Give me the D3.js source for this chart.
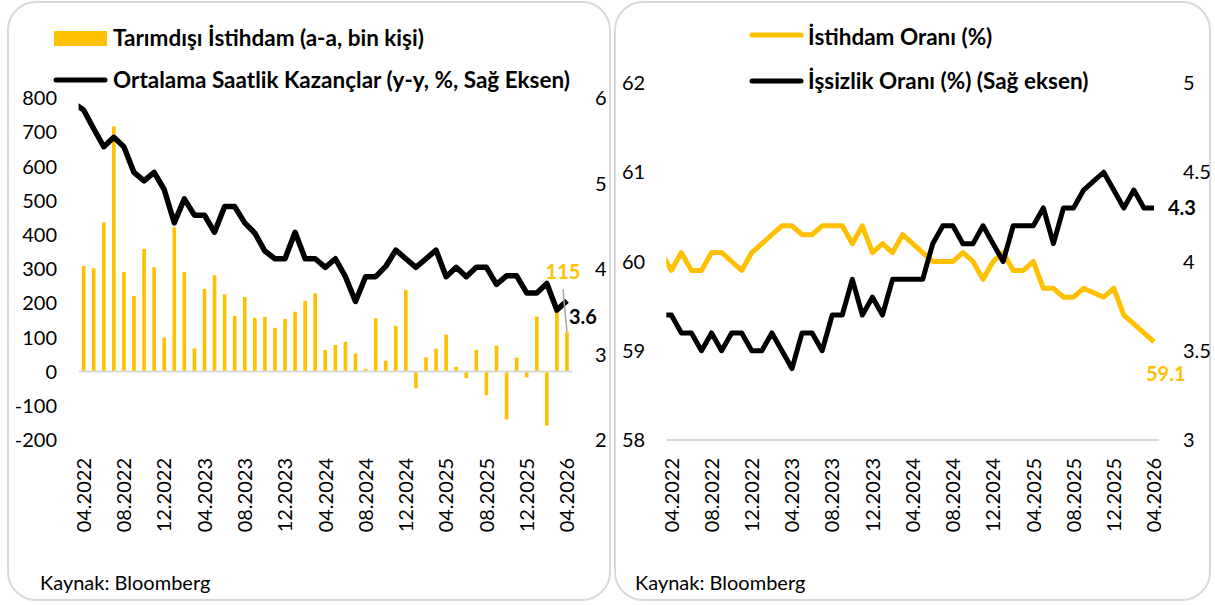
<!DOCTYPE html>
<html lang="tr">
<head>
    <meta charset="UTF-8">
    <title>ABD İstihdam Göstergeleri</title>
    <script src="https://d3js.org/d3.v7.min.js"></script>
    <style>
        body { margin: 0; background: #fff; }
        svg text { font-family: Lato, "Open Sans", sans-serif; fill: #000; }
        .tick-label { font-size: 20px; }
        .legend-text { font-size: 22.5px; font-weight: bold; }
        .source { font-size: 20px; }
        .value-label { font-size: 20px; font-weight: bold; }
    </style>
</head>
<body>
<script>

    var w = 1215;
    var h = 605;

    // months 03.2022 - 04.2026 (first month only feeds the lines, it is cut at the plot edge)
    var months = d3.timeMonth.range(new Date(2022, 2, 1), new Date(2026, 4, 1));
    var monthLabels = months.map(d3.timeFormat("%m.%Y"));

    var xTickLabels = ["04.2022", "08.2022", "12.2022", "04.2023", "08.2023", "12.2023", "04.2024",
        "08.2024", "12.2024", "04.2025", "08.2025", "12.2025", "04.2026"];

    // left chart: 04.2022 - 04.2026
    var payrolls = [309, 302, 436, 717, 291, 221, 359, 305, 100, 422, 291, 68, 242, 282, 226, 163, 218,
        157, 160, 128, 154, 175, 207, 229, 63, 78, 87, 53, 8, 156, 32, 134, 239, -49, 42, 67, 108, 14,
        -19, 64, -69, 76, -140, 41, -17, 161, -158, 178, 115];
    // 03.2022 - 04.2026
    var earnings = [5.94, 5.86, 5.64, 5.43, 5.54, 5.43, 5.13, 5.03, 5.13, 4.93, 4.54, 4.82, 4.63, 4.63,
        4.43, 4.73, 4.73, 4.54, 4.42, 4.21, 4.12, 4.12, 4.43, 4.12, 4.12, 4.02, 4.12, 3.91, 3.62, 3.91,
        3.91, 4.03, 4.22, 4.12, 4.02, 4.12, 4.22, 3.91, 4.02, 3.91, 4.02, 4.02, 3.82, 3.92, 3.92, 3.72,
        3.72, 3.83, 3.52, 3.63];

    // right chart: 03.2022 - 04.2026
    var empRatio = [60.1, 59.9, 60.1, 59.9, 59.9, 60.1, 60.1, 60.0, 59.9, 60.1, 60.2, 60.3, 60.4, 60.4,
        60.3, 60.3, 60.4, 60.4, 60.4, 60.2, 60.4, 60.1, 60.2, 60.1, 60.3, 60.2, 60.1, 60.0, 60.0, 60.0,
        60.1, 60.0, 59.8, 60.0, 60.1, 59.9, 59.9, 60.0, 59.7, 59.7, 59.6, 59.6, 59.7, 59.65, 59.6, 59.7,
        59.4, 59.3, 59.2, 59.1];
    var unemployment = [3.7, 3.7, 3.6, 3.6, 3.5, 3.6, 3.5, 3.6, 3.6, 3.5, 3.5, 3.6, 3.5, 3.4, 3.6, 3.6,
        3.5, 3.7, 3.7, 3.9, 3.7, 3.8, 3.7, 3.9, 3.9, 3.9, 3.9, 4.1, 4.2, 4.2, 4.1, 4.1, 4.2, 4.1, 4.0,
        4.2, 4.2, 4.2, 4.3, 4.1, 4.3, 4.3, 4.4, 4.45, 4.5, 4.4, 4.3, 4.4, 4.3, 4.3];

    var leftTicks = [-200, -100, 0, 100, 200, 300, 400, 500, 600, 700, 800];
    var leftRightTicks = [2, 3, 4, 5, 6];
    var rightTicks = [58, 59, 60, 61, 62];
    var rightRightTicks = [3, 3.5, 4, 4.5, 5];

    var gold = "#FFC000";

    var svg = d3.select("body")
        .append("svg")
        .attr("width", w)
        .attr("height", h);

    // panel frames
    svg.append("rect").attr("x", 8).attr("y", 2).attr("width", 602).attr("height", 598)
        .attr("rx", 28).attr("fill", "none").attr("stroke", "#D9D9D9").attr("stroke-width", 2);
    svg.append("rect").attr("x", 615).attr("y", 2).attr("width", 595).attr("height", 598)
        .attr("rx", 28).attr("fill", "none").attr("stroke", "#D9D9D9").attr("stroke-width", 2);

    function xLabels(g, x, y0) {
        g.selectAll(".xlab")
            .data(xTickLabels)
            .enter()
            .append("text")
            .attr("class", "tick-label")
            .attr("text-anchor", "end")
            .attr("dy", "0.36em")
            .attr("transform", function (d) {
                return "translate(" + x(monthLabels.indexOf(d)) + "," + y0 + ") rotate(-90)";
            })
            .text(function (d) { return d; });
    }

    function yLabels(g, ticks, y, x, anchor) {
        g.selectAll(null)
            .data(ticks)
            .enter()
            .append("text")
            .attr("class", "tick-label")
            .attr("text-anchor", anchor)
            .attr("x", x)
            .attr("y", function (d) { return y(d); })
            .attr("dy", "0.36em")
            .text(function (d) { return d; });
    }

    // ---------- left chart ----------
    var gL = svg.append("g");

    var xL = d3.scaleLinear().domain([0.5, 49.5]).range([78.6, 572]);
    var yL = d3.scaleLinear().domain([-200, 800]).range([440, 98]);
    var yL2 = d3.scaleLinear().domain([2, 6]).range([440, 98]);

    gL.append("clipPath").attr("id", "clipL")
        .append("rect").attr("x", xL(0.5)).attr("y", 0).attr("width", xL(49.5) - xL(0.5)).attr("height", h);

    gL.selectAll(".bar")
        .data(payrolls)
        .enter()
        .append("rect")
        .attr("class", "bar")
        .attr("x", function (d, i) { return xL(i + 1) - 1.8; })
        .attr("width", 3.6)
        .attr("y", function (d) { return yL(Math.max(0, d)); })
        .attr("height", function (d) { return Math.abs(yL(d) - yL(0)); })
        .attr("fill", gold);

    gL.append("line")
        .attr("x1", xL(0.5)).attr("x2", xL(49.5))
        .attr("y1", yL(0)).attr("y2", yL(0))
        .attr("stroke", "#D9D9D9").attr("stroke-width", 2);

    var lineL = d3.line()
        .x(function (d, i) { return xL(i); })
        .y(function (d) { return yL2(d); });

    gL.append("path")
        .datum(earnings)
        .attr("d", lineL)
        .attr("clip-path", "url(#clipL)")
        .attr("fill", "none")
        .attr("stroke", "#000")
        .attr("stroke-width", 5.5)
        .attr("stroke-linejoin", "round");

    yLabels(gL, leftTicks, yL, 57, "end");
    yLabels(gL, leftRightTicks, yL2, 595, "start");
    xLabels(gL, xL, 458);

    // end labels
    var lastL = payrolls.length;
    gL.append("line")
        .attr("x1", xL(lastL) - 4).attr("y1", yL(payrolls[lastL - 1]) - 43)
        .attr("x2", xL(lastL)).attr("y2", yL(payrolls[lastL - 1]))
        .attr("stroke", "#A6A6A6").attr("stroke-width", 1.5);
    gL.append("text")
        .attr("class", "value-label")
        .attr("text-anchor", "middle")
        .attr("x", xL(lastL) - 4)
        .attr("y", yL(payrolls[lastL - 1]) - 60)
        .attr("dy", "0.36em")
        .style("fill", gold)
        .text(payrolls[lastL - 1]);
    gL.append("text")
        .attr("class", "value-label")
        .attr("x", xL(lastL) + 2)
        .attr("y", yL2(earnings[lastL]) + 16)
        .attr("dy", "0.36em")
        .text(d3.format(".1f")(earnings[lastL]));

    // legend
    gL.append("rect").attr("x", 54).attr("y", 31).attr("width", 53).attr("height", 15).attr("fill", gold);
    gL.append("text").attr("class", "legend-text").attr("x", 113).attr("y", 38).attr("dy", "0.36em")
        .text("Tarımdışı İstihdam (a-a, bin kişi)");
    gL.append("line").attr("x1", 56).attr("x2", 105).attr("y1", 80).attr("y2", 80)
        .attr("stroke", "#000").attr("stroke-width", 5).attr("stroke-linecap", "round");
    gL.append("text").attr("class", "legend-text").attr("x", 113).attr("y", 80).attr("dy", "0.36em")
        .text("Ortalama Saatlik Kazançlar (y-y, %, Sağ Eksen)");

    gL.append("text").attr("class", "source").attr("x", 40).attr("y", 583).attr("dy", "0.36em")
        .text("Kaynak: Bloomberg");

    // ---------- right chart ----------
    var gR = svg.append("g");

    var xR = d3.scaleLinear().domain([0.5, 49.5]).range([666.3, 1159]);
    var yR = d3.scaleLinear().domain([58, 62]).range([440, 83]);
    var yR2 = d3.scaleLinear().domain([3, 5]).range([440, 83]);

    gR.append("clipPath").attr("id", "clipR")
        .append("rect").attr("x", xR(0.5)).attr("y", 0).attr("width", xR(49.5) - xR(0.5)).attr("height", h);

    gR.append("line")
        .attr("x1", xR(0.5)).attr("x2", xR(49.5))
        .attr("y1", yR(58)).attr("y2", yR(58))
        .attr("stroke", "#D9D9D9").attr("stroke-width", 2);

    var lineEmp = d3.line()
        .x(function (d, i) { return xR(i); })
        .y(function (d) { return yR(d); });
    var lineUnemp = d3.line()
        .x(function (d, i) { return xR(i); })
        .y(function (d) { return yR2(d); });

    gR.append("path")
        .datum(empRatio)
        .attr("d", lineEmp)
        .attr("clip-path", "url(#clipR)")
        .attr("fill", "none")
        .attr("stroke", gold)
        .attr("stroke-width", 5)
        .attr("stroke-linejoin", "round");

    gR.append("path")
        .datum(unemployment)
        .attr("d", lineUnemp)
        .attr("clip-path", "url(#clipR)")
        .attr("fill", "none")
        .attr("stroke", "#000")
        .attr("stroke-width", 5)
        .attr("stroke-linejoin", "round");

    yLabels(gR, rightTicks, yR, 622, "start");
    yLabels(gR, rightRightTicks, yR2, 1183, "start");
    xLabels(gR, xR, 458);

    var lastR = empRatio.length - 1;
    gR.append("text")
        .attr("class", "value-label")
        .attr("x", xR(lastR) + 14)
        .attr("y", yR2(unemployment[lastR]))
        .attr("dy", "0.36em")
        .text(d3.format(".1f")(unemployment[lastR]));
    gR.append("text")
        .attr("class", "value-label")
        .attr("x", xR(lastR) - 8)
        .attr("y", yR(empRatio[lastR]) + 32)
        .attr("dy", "0.36em")
        .style("fill", gold)
        .text(d3.format(".1f")(empRatio[lastR]));

    // legend
    gR.append("line").attr("x1", 752).attr("x2", 801).attr("y1", 35).attr("y2", 35)
        .attr("stroke", gold).attr("stroke-width", 5).attr("stroke-linecap", "round");
    gR.append("text").attr("class", "legend-text").attr("x", 808).attr("y", 37).attr("dy", "0.36em")
        .text("İstihdam Oranı (%)");
    gR.append("line").attr("x1", 752).attr("x2", 801).attr("y1", 81).attr("y2", 81)
        .attr("stroke", "#000").attr("stroke-width", 5).attr("stroke-linecap", "round");
    gR.append("text").attr("class", "legend-text").attr("x", 808).attr("y", 81).attr("dy", "0.36em")
        .text("İşsizlik Oranı (%) (Sağ eksen)");

    gR.append("text").attr("class", "source").attr("x", 635).attr("y", 583).attr("dy", "0.36em")
        .text("Kaynak: Bloomberg");

</script>
</body>
</html>
